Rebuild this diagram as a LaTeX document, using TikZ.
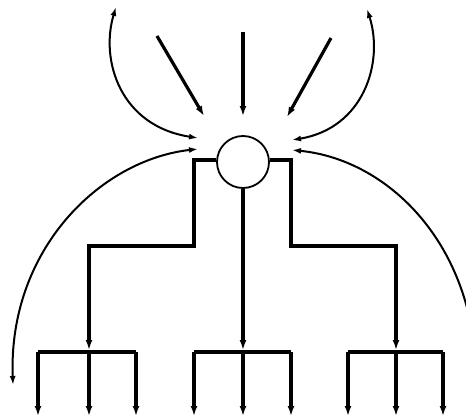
\documentclass[tikz,border=0pt]{standalone}
\usetikzlibrary{arrows.meta}
\begin{document}
\begin{tikzpicture}[x=1pt,y=-1pt,
  branch/.style={line width=3.4pt,line join=miter},
  thin/.style={line width=2pt},
  ray/.style={line width=3.2pt},
  tip/.style={-{Latex[length=10pt,width=7pt]}},
  tips/.style={{Latex[length=9pt,width=6pt]}-{Latex[length=9pt,width=6pt]}},
  hub/.style={circle,draw,line width=1.8pt,minimum size=52pt,inner sep=0pt}]
\useasboundingbox (0,0) rectangle (466,420);
\node[hub] (c) at (243,162) {};
% free ends
\coordinate (t1) at (157,36);  \coordinate (e1) at (204,116);
\coordinate (t2) at (243,32);  \coordinate (e2) at (243,116);
\coordinate (t3) at (331,38);  \coordinate (e3) at (287,117);
\coordinate (ul0) at (116,7);  \coordinate (ul1) at (198,138);
\coordinate (ur0) at (367,9);  \coordinate (ur1) at (292,140);
\coordinate (ll0) at (198,149); \coordinate (ll1) at (13,385);
\coordinate (lr0) at (292,150); \coordinate (lr1) at (476,383);
% rays
\draw[ray,tip] (t1) -- (e1);
\draw[ray,tip] (t2) -- (e2);
\draw[ray,tip] (t3) -- (e3);
% curves
\draw[thin,tips] (ul0) .. controls (100,60) and (120,126) .. (ul1);
\draw[thin,tips] (ur0) .. controls (384,62) and (364,128) .. (ur1);
\draw[thin,tips] (ll0) .. controls (100,160) and (8,250) .. (ll1);
\begin{scope}
\clip (0,0) rectangle (466,420);
\draw[thin,{Latex[length=9pt,width=6pt]}-] (lr0) .. controls (392,160) and (478,250) .. (lr1);
\end{scope}
% branch junctions
\coordinate (j1) at (89,350); \coordinate (j2) at (243,350); \coordinate (j3) at (396,350);
\coordinate (bl) at (194,246); \coordinate (br) at (291,246);
\draw[branch,tip] ([yshift=2pt]c.west) -| (bl) -| (j1);
\draw[branch,tip] ([yshift=2pt]c.east) -| (br) -| (j3);
\draw[branch,tip] (c.south) -- (j2);
% bars and drops
\foreach \n/\a/\b/\m in {1/38/136/89, 2/194/291/243, 3/348/443/396}{
  \coordinate (a\n) at (\a,352);
  \coordinate (m\n) at (\m,352);
  \coordinate (b\n) at (\b,352);
  \coordinate (da\n) at (\a,416);
  \coordinate (dm\n) at (\m,416);
  \coordinate (db\n) at (\b,416);
  \draw[branch] (a\n) -- (b\n);
  \draw[branch,tip] (a\n) -- (da\n);
  \draw[branch,tip] (m\n) -- (dm\n);
  \draw[branch,tip] (b\n) -- (db\n);
}
\end{tikzpicture}
\end{document}
